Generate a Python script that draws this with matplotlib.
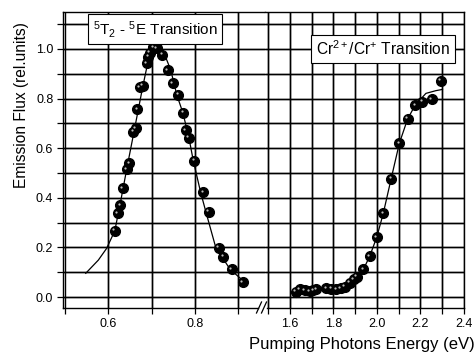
import matplotlib
matplotlib.use("Agg")
import matplotlib.pyplot as plt
from matplotlib.ticker import MultipleLocator
from matplotlib.transforms import offset_copy

plt.rcParams['font.family'] = ['Liberation Sans', 'DejaVu Sans']
plt.rcParams['mathtext.fontset'] = 'custom'
plt.rcParams['mathtext.rm'] = 'Liberation Sans'
plt.rcParams['mathtext.it'] = 'Liberation Sans:italic'

# 5T2 - 5E band (measured points)
t2_x = [0.615, 0.622, 0.627, 0.633, 0.642, 0.648, 0.657, 0.663, 0.667, 0.673,
        0.679, 0.689, 0.692, 0.696, 0.704, 0.712, 0.725, 0.737, 0.749, 0.761,
        0.773, 0.779, 0.786, 0.798, 0.819, 0.832, 0.855, 0.865, 0.885, 0.910]
t2_y = [0.267, 0.337, 0.371, 0.438, 0.515, 0.539, 0.667, 0.681, 0.757, 0.846,
        0.851, 0.942, 0.969, 0.985, 1.007, 1.003, 0.976, 0.915, 0.862, 0.815,
        0.743, 0.673, 0.642, 0.550, 0.422, 0.344, 0.199, 0.163, 0.112, 0.059]
# fitted curve
t2_fit_x = [0.548, 0.577, 0.596, 0.615, 0.630, 0.645, 0.660, 0.679, 0.694, 0.705,
            0.715, 0.725, 0.735, 0.744, 0.758, 0.772, 0.786, 0.796, 0.813, 0.825,
            0.848, 0.881, 0.918]
t2_fit_y = [0.096, 0.149, 0.196, 0.267, 0.400, 0.539, 0.673, 0.844, 0.969, 1.000,
            1.005, 0.990, 0.955, 0.915, 0.815, 0.743, 0.642, 0.550, 0.422, 0.344,
            0.199, 0.112, 0.055]

# Cr2+/Cr+ band (measured points)
cr_x = [1.627, 1.646, 1.669, 1.691, 1.707, 1.722, 1.768, 1.791, 1.814, 1.833,
        1.851, 1.874, 1.894, 1.908, 1.938, 1.967, 1.999, 2.029, 2.065, 2.103,
        2.141, 2.176, 2.209, 2.252, 2.293]
cr_y = [0.021, 0.031, 0.028, 0.024, 0.028, 0.032, 0.035, 0.033, 0.032, 0.035,
        0.042, 0.058, 0.071, 0.082, 0.112, 0.165, 0.241, 0.337, 0.476, 0.620,
        0.718, 0.774, 0.788, 0.798, 0.871]
cr_fit_x = [1.625, 1.700, 1.780, 1.840, 1.874, 1.908, 1.938, 1.967, 1.999, 2.029,
            2.065, 2.103, 2.141, 2.176, 2.225, 2.271, 2.301]
cr_fit_y = [0.025, 0.028, 0.032, 0.040, 0.058, 0.082, 0.112, 0.165, 0.241, 0.337,
            0.476, 0.620, 0.718, 0.774, 0.821, 0.832, 0.837]

left_ticks = [0.6, 0.8]
right_ticks = [1.6, 1.8, 2.0, 2.2, 2.4]
y_ticks = [0.0, 0.2, 0.4, 0.6, 0.8, 1.0]
y_grid = [0.0, 0.1, 0.2, 0.3, 0.4, 0.5, 0.6, 0.7, 0.8, 0.9, 1.0, 1.1]
left_grid = [0.6, 0.7, 0.8, 0.9]
right_grid = [1.5, 1.6, 1.7, 1.8, 1.9, 2.0, 2.1, 2.2, 2.3]

W, H = 477, 354
fig = plt.figure(figsize=(W / 100, H / 100), dpi=100)

def fx(px):
    return px / W

def fy(py):
    return 1 - py / H

bot, top = fy(308), fy(12)
ax1 = fig.add_axes([fx(63), bot, fx(265.5) - fx(63), top - bot])
ax2 = fig.add_axes([fx(265.5), bot, fx(464) - fx(265.5), top - bot])

ax1.set_xlim(0.4955, 0.9626)
ax2.set_xlim(1.488, 2.4)
ax1.set_xticks(left_ticks)
ax1.set_xticklabels([f"{v:.1f}" for v in left_ticks])
ax2.set_xticks(right_ticks)
ax2.set_xticklabels([f"{v:.1f}" for v in right_ticks])
ax1.set_yticks(y_ticks)
ax1.set_yticklabels([f"{v:.1f}" for v in y_ticks])
ax2.set_yticks(y_ticks)

for ax, xg in ((ax1, left_grid), (ax2, right_grid)):
    ax.set_ylim(-0.044, 1.149)
    ax.yaxis.set_minor_locator(MultipleLocator(0.1))
    ax.xaxis.set_minor_locator(MultipleLocator(0.1))
    ax.tick_params(which='both', direction='out', length=4, width=0.9,
                   labelsize=9, pad=3)
    for s in ax.spines.values():
        s.set_linewidth(1.0)
    # grid every 0.1 (tick grid plus explicit lines, same style)
    ax.grid(True, which='both', color='black', linewidth=1.0)
    lo, hi = ax.get_xlim()
    ax.vlines(xg, -0.044, 1.149, colors='black', linewidths=1.0, zorder=2.7)
    ax.hlines(y_grid, lo, hi, colors='black', linewidths=1.0, zorder=2.7)

ax2.tick_params(axis='y', which='both', left=False, labelleft=False)
ax1.spines['right'].set_visible(False)
ax2.spines['left'].set_visible(False)

# gap in the bottom axis line
ax1.spines['bottom'].set_bounds(0.4955, 0.9453)
ax2.spines['bottom'].set_bounds(1.495, 2.4)

# curves + black balls
ax1.plot(t2_fit_x, t2_fit_y, color='black', linewidth=0.9, zorder=3)
ax2.plot(cr_fit_x, cr_fit_y, color='black', linewidth=0.9, zorder=3)
for ax, xs, ys in ((ax1, t2_x, t2_y), (ax2, cr_x, cr_y)):
    ax.plot(xs, ys, 'o', color='black', markersize=7, zorder=4)
    hl = offset_copy(ax.transData, fig=fig, x=-1.5, y=1.5, units='dots')
    ax.plot(xs, ys, 'o', color='#bbbbbb', markersize=1.6, transform=hl,
            markeredgewidth=0, zorder=5)

# axis break marks
for dx in (-3, 2):
    fig.lines.append(plt.Line2D([fx(262 + dx - 2.5), fx(262 + dx + 2.5)],
                                [fy(313), fy(302)], color='black',
                                linewidth=0.9, transform=fig.transFigure))

box = dict(boxstyle='square,pad=0.3', facecolor='white', edgecolor='black',
           linewidth=0.8)
fig.text(fx(155), fy(29), r'$^5$T$_2$ - $^5$E Transition', fontsize=11,
         ha='center', va='center', bbox=box)
fig.text(fx(383), fy(49), r'Cr$^{2+}$/Cr$^{+}$ Transition', fontsize=11.2,
         ha='center', va='center', bbox=box)

fig.text(fx(475), fy(344), 'Pumping Photons Energy (eV)', fontsize=12,
         ha='right', va='center')
fig.text(fx(22), fy(105), 'Emission Flux (rel.units)', fontsize=11.2,
         rotation=90, ha='center', va='center')

fig.savefig('out.png', dpi=100)
